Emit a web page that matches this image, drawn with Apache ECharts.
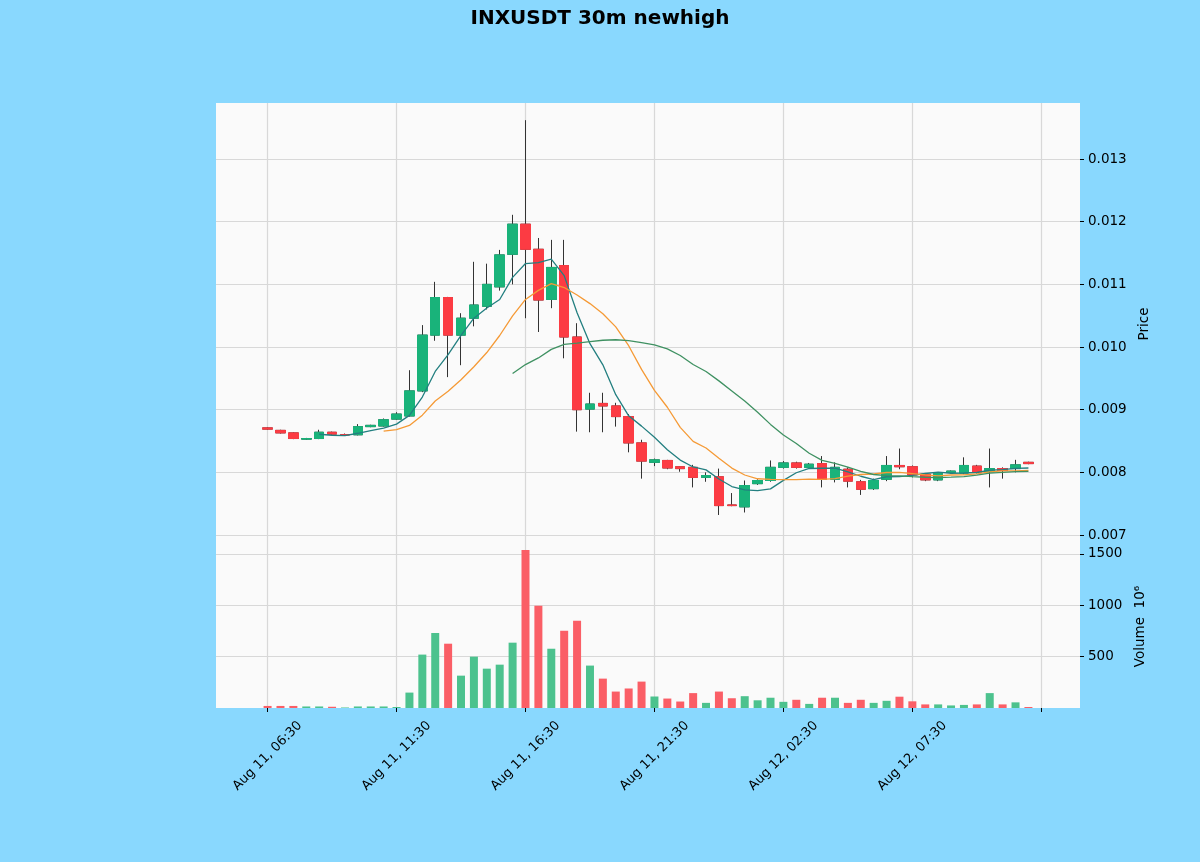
<!DOCTYPE html>
<html>
<head>
<meta charset="utf-8">
<script src="https://cdn.jsdelivr.net/npm/echarts@6/dist/echarts.min.js"></script>
<style>
  html, body { margin: 0; padding: 0; background: #89d8fe; }
  #chart { width: 1200px; height: 862px; }
</style>
</head>
<body>
<div id="chart"></div>
<script>
// 30m candles, Aug 11 06:30 -> Aug 12 12:00
var opens  = [0.00871,0.00867,0.00863,0.00853,0.00854,0.00864,0.00860,0.00860,0.00873,0.00874,
              0.00885,0.00890,0.00930,0.01019,0.01079,0.01019,0.01046,0.01065,0.01096,0.01148,
              0.01196,0.01156,0.01076,0.01130,0.01016,0.00901,0.00910,0.00906,0.00889,0.00847,
              0.00816,0.00819,0.00809,0.00808,0.00792,0.00793,0.00748,0.00745,0.00782,0.00787,
              0.00808,0.00815,0.00808,0.00814,0.00789,0.00805,0.00785,0.00774,0.00789,0.00811,
              0.00809,0.00797,0.00788,0.00800,0.00799,0.00810,0.00801,0.00806,0.00806,0.00816];
var closes = [0.00869,0.00863,0.00854,0.00854,0.00864,0.00861,0.00860,0.00873,0.00875,0.00884,
              0.00893,0.00930,0.01019,0.01079,0.01019,0.01046,0.01067,0.01100,0.01147,0.01196,
              0.01156,0.01075,0.01127,0.01016,0.00900,0.00909,0.00906,0.00889,0.00847,0.00818,
              0.00820,0.00807,0.00806,0.00792,0.00795,0.00747,0.00747,0.00779,0.00787,0.00808,
              0.00815,0.00808,0.00813,0.00789,0.00808,0.00786,0.00773,0.00787,0.00811,0.00809,
              0.00796,0.00788,0.00798,0.00802,0.00811,0.00800,0.00806,0.00803,0.00812,0.00814];
var lows   = [0.00868,0.00862,0.00853,0.00852,0.00853,0.00860,0.00859,0.00859,0.00872,0.00873,
              0.00884,0.00889,0.00928,0.01010,0.00952,0.00971,0.01033,0.01060,0.01090,0.01100,
              0.01046,0.01024,0.01062,0.00982,0.00865,0.00864,0.00864,0.00873,0.00832,0.00790,
              0.00810,0.00805,0.00801,0.00776,0.00785,0.00732,0.00746,0.00736,0.00780,0.00785,
              0.00806,0.00806,0.00806,0.00776,0.00784,0.00776,0.00764,0.00772,0.00786,0.00805,
              0.00792,0.00786,0.00786,0.00798,0.00797,0.00798,0.00776,0.00790,0.00800,0.00813];
var highs  = [0.00872,0.00868,0.00864,0.00855,0.00868,0.00865,0.00862,0.00877,0.00876,0.00886,
              0.00896,0.00963,0.01035,0.01104,0.01080,0.01054,0.01136,0.01133,0.01155,0.01211,
              0.01362,0.01174,0.01171,0.01171,0.01038,0.00927,0.00927,0.00911,0.00893,0.00852,
              0.00822,0.00820,0.00810,0.00812,0.00800,0.00806,0.00767,0.00787,0.00789,0.00819,
              0.00818,0.00817,0.00815,0.00826,0.00816,0.00808,0.00788,0.00790,0.00826,0.00838,
              0.00811,0.00799,0.00800,0.00803,0.00824,0.00812,0.00838,0.00808,0.00820,0.00817];
// volume in units of 10^6
var volumes = [20,20,20,15,15,12,5,15,15,15,
               10,150,520,730,626,315,500,383,422,636,
               1539,995,577,752,850,413,286,160,190,257,
               112,92,63,145,50,160,95,115,75,100,
               60,80,40,100,100,50,80,50,70,110,
               65,35,35,25,30,35,145,35,55,10];
var maPeriods = [5, 10, 20];
var tickLabels = ['Aug 11, 06:30','Aug 11, 11:30','Aug 11, 16:30','Aug 11, 21:30','Aug 12, 02:30','Aug 12, 07:30',''];

var padBefore = 4, padAfter = 4;
var upColor = '#19b37a', downColor = '#fc3b43';
var upVol = '#4cc28e', downVol = '#fa5e66';
var maColors = ['#237f80', '#f59a36', '#3f9162'];

var n = closes.length;
var total = padBefore + n + padAfter;
var cats = [];
for (var k = 0; k < total; k++) cats.push(String(k));

function pad(arr) {
  var out = [];
  for (var k = 0; k < padBefore; k++) out.push('-');
  out = out.concat(arr);
  for (var k = 0; k < padAfter; k++) out.push('-');
  return out;
}

var full = [], bodies = [], vols = [];
for (var i = 0; i < n; i++) {
  full.push([opens[i], closes[i], lows[i], highs[i]]);
  bodies.push([opens[i], closes[i], Math.min(opens[i], closes[i]), Math.max(opens[i], closes[i])]);
  vols.push({ value: volumes[i], itemStyle: { color: closes[i] >= opens[i] ? upVol : downVol } });
}

function sma(p) {
  var out = [];
  for (var i = 0; i < n; i++) {
    if (i < p - 1) { out.push('-'); continue; }
    var s = 0;
    for (var j = i - p + 1; j <= i; j++) s += closes[j];
    out.push(s / p);
  }
  return out;
}

function isTick(idx) { return idx >= padBefore && (idx - padBefore) % 10 === 0; }

var font = 'DejaVu Sans';
var gridLine = { show: true, interval: function (idx) { return isTick(idx); }, lineStyle: { color: '#d8d8d8', width: 1.2 } };
var hLine = { show: true, showMinLine: false, showMaxLine: false, lineStyle: { color: '#d8d8d8', width: 1.2 } };

var chart = echarts.init(document.getElementById('chart'));

var option = {
  animation: false,
  backgroundColor: '#89d8fe',
  textStyle: { fontFamily: font },
  title: {
    text: 'INXUSDT 30m newhigh',
    left: 'center',
    top: 4,
    textStyle: { fontFamily: font, fontSize: 20, fontWeight: 'bold', color: '#000' }
  },
  grid: [
    { left: 216, right: 120, top: 103, height: 442, show: true, backgroundColor: '#fafafa', borderWidth: 0 },
    { left: 216, right: 120, top: 545, height: 163, show: true, backgroundColor: '#fafafa', borderWidth: 0 }
  ],
  xAxis: [
    {
      type: 'category', gridIndex: 0, data: cats, boundaryGap: false,
      axisLine: { show: false }, axisTick: { show: false }, axisLabel: { show: false },
      splitLine: gridLine
    },
    {
      type: 'category', gridIndex: 1, data: cats, boundaryGap: false,
      axisLine: { show: false },
      axisTick: { show: true, interval: function (idx) { return isTick(idx); }, length: 4, lineStyle: { color: '#000' } },
      axisLabel: {
        interval: function (idx) { return isTick(idx); },
        formatter: function (v, idx) { return tickLabels[(idx - padBefore) / 10] || ''; },
        rotate: 45, align: 'center', verticalAlign: 'middle', margin: 48,
        fontSize: 13, color: '#000', fontFamily: font
      },
      splitLine: gridLine
    }
  ],
  yAxis: [
    {
      type: 'value', gridIndex: 0, position: 'right', scale: true,
      min: 0.006841, max: 0.013894, minInterval: 0.001, maxInterval: 0.001,
      name: 'Price', nameLocation: 'middle', nameRotate: 90, nameGap: 56,
      nameTextStyle: { fontFamily: font, fontSize: 13.5, color: '#000' },
      axisLine: { show: false },
      axisTick: { show: true, length: 4, lineStyle: { color: '#000' } },
      axisLabel: {
        formatter: function (v) { return v.toFixed(3); },
        showMinLabel: false, showMaxLabel: false,
        fontSize: 13.5, color: '#000', fontFamily: font, margin: 8
      },
      splitLine: hLine
    },
    {
      type: 'value', gridIndex: 1, position: 'right',
      min: 0, max: 1587, minInterval: 500, maxInterval: 500,
      name: 'Volume  10\u2076', nameLocation: 'middle', nameRotate: 90, nameGap: 48,
      nameTextStyle: { fontFamily: font, fontSize: 13.5, color: '#000' },
      axisLine: { show: false },
      axisTick: { show: true, length: 4, lineStyle: { color: '#000' } },
      axisLabel: {
        formatter: function (v) { return String(v); },
        showMinLabel: false, showMaxLabel: false,
        fontSize: 13.5, color: '#000', fontFamily: font, margin: 8
      },
      splitLine: hLine
    }
  ],
  series: [
    {
      // wicks
      type: 'candlestick', xAxisIndex: 0, yAxisIndex: 0, data: pad(full), barWidth: 10,
      itemStyle: { color: 'rgba(0,0,0,0)', color0: 'rgba(0,0,0,0)', borderColor: '#333333', borderColor0: '#333333', borderWidth: 1 },
      z: 2
    },
    {
      // bodies
      type: 'candlestick', xAxisIndex: 0, yAxisIndex: 0, data: pad(bodies), barWidth: 10,
      itemStyle: { color: upColor, color0: downColor, borderColor: upColor, borderColor0: downColor, borderWidth: 1 },
      z: 3
    },
    {
      type: 'bar', xAxisIndex: 1, yAxisIndex: 1, data: pad(vols), barWidth: 8
    }
  ]
};

maPeriods.forEach(function (p, j) {
  option.series.push({
    type: 'line', xAxisIndex: 0, yAxisIndex: 0, data: pad(sma(p)),
    symbol: 'none', smooth: false, z: 4,
    lineStyle: { color: maColors[j], width: 1.3 }
  });
});

chart.setOption(option);
</script>
</body>
</html>
